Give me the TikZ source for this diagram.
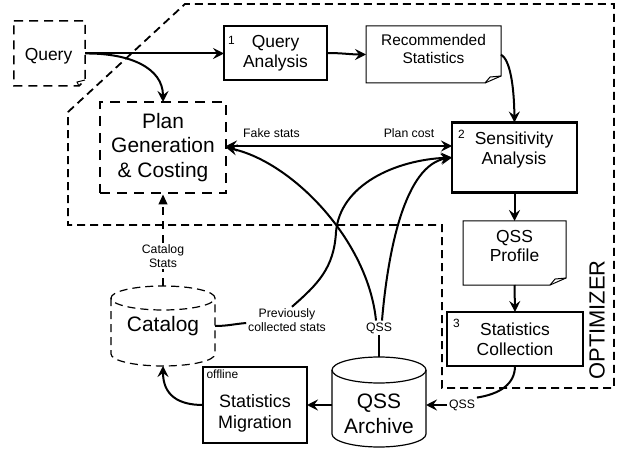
\documentclass[tikz,border=0pt]{standalone}
\usepackage{fontspec}
\setmainfont{Liberation Sans}
\usetikzlibrary{arrows.meta}
\begin{document}
\begin{tikzpicture}[x=1bp,y=1bp,
  every node/.style={inner sep=0pt, outer sep=0pt},
  pbox/.style={draw, line width=2.5bp, align=center, font=\fontsize{17.5}{20}\selectfont},
  dashbox/.style={draw, line width=2.5bp, dash pattern=on 10bp off 7bp, align=center, font=\fontsize{21}{25}\selectfont},
  ghost/.style={align=center},
  txt/.style={align=center, font=\fontsize{17.5}{20}\selectfont},
  bigtxt/.style={align=center, font=\fontsize{21}{25}\selectfont},
  lbl/.style={fill=white, inner sep=2bp, align=center, font=\fontsize{12.3}{13.5}\selectfont},
  num/.style={font=\fontsize{12}{14}\selectfont},
  notel/.style={line width=1bp, line join=miter},
  cyl/.style={line width=1.2bp},
  cyldash/.style={line width=1.2bp, dash pattern=on 8bp off 5bp},
  optline/.style={line width=1.8bp, dash pattern=on 8bp off 5bp},
  conn/.style={line width=2bp},
  arr/.style={conn, -{Stealth[length=11bp,width=11bp,inset=4bp]}},
  darr/.style={conn, {Stealth[length=11bp,width=11bp,inset=4bp]}-{Stealth[length=11bp,width=11bp,inset=4bp]}},
  catconn/.style={line width=1.2bp, dash pattern=on 8bp off 6bp},
]
\useasboundingbox (0,0) rectangle (621,-454);

% optimizer boundary
\draw[optline] (68,-112) -- (185,-4) -- (614,-4) -- (614,-388) -- (442,-388) -- (442,-225) -- (68,-225) -- cycle;
\node[rotate=90, font=\fontsize{22}{24}\selectfont] (opt) at (597,-320) {OPTIMIZER};

% Query (dashed note)
\node[ghost, minimum width=71bp, minimum height=65bp] (q) at (49.5,-53.5) {};
\node[txt] (qt) at (48.5,-56) {Query};
\draw[line width=1.5bp, dash pattern=on 9bp off 6bp] (q.north west) -- (q.north east) -- ([yshift=6]q.south east) -- ([xshift=-6]q.south east) -- (q.south west) -- cycle;
\draw[line width=1bp] ([xshift=-6]q.south east) -- ([xshift=-8,yshift=4]q.south east) -- ([yshift=6]q.south east);

% Query Analysis
\node[pbox, minimum width=103bp, minimum height=54bp] (qa) at (275.5,-53) {Query\\Analysis};
\node[num, anchor=north west] (n1) at (228,-36.5) {1};

% Recommended Statistics (note)
\node[ghost, minimum width=135bp, minimum height=57bp] (rs) at (433.5,-54.5) {};
\draw[notel] (rs.north west) -- (rs.north east) -- ([yshift=7]rs.south east) -- ([xshift=-16]rs.south east) -- (rs.south west) -- cycle;
\draw[notel] ([xshift=-16]rs.south east) -- ([xshift=-11,yshift=6]rs.south east) -- ([yshift=7]rs.south east);
\node[align=center, font=\fontsize{15.5}{18}\selectfont] (rst) at (433.5,-49) {Recommended\\Statistics};

% Plan Generation & Costing
\node[dashbox, minimum width=126bp, minimum height=91bp] (pg) at (163,-147.5) {Plan\\Generation\\\& Costing};

% Sensitivity Analysis
\node[pbox, minimum width=125bp, minimum height=70bp] (sa) at (514.5,-157.5) {};
\node[txt] (sat) at (514,-150) {Sensitivity\\Analysis};
\node[num, anchor=north west] (n2) at (458,-130) {2};

% QSS Profile (note)
\node[ghost, minimum width=103bp, minimum height=64bp] (qp) at (514.5,-253) {};
\draw[notel] (qp.north west) -- (qp.north east) -- ([yshift=7]qp.south east) -- ([xshift=-16]qp.south east) -- (qp.south west) -- cycle;
\draw[notel] ([xshift=-16]qp.south east) -- ([xshift=-11,yshift=6]qp.south east) -- ([yshift=7]qp.south east);
\node[txt] (qpt) at (514.5,-246) {QSS\\Profile};

% Statistics Collection
\node[pbox, minimum width=136bp, minimum height=54bp] (sc) at (515,-339) {Statistics\\Collection};
\node[num, anchor=north west] (n3) at (453,-319) {3};

% QSS Archive (cylinder)
\node[ghost, minimum width=94bp, minimum height=90bp] (arch) at (379,-402) {};
\draw[cyl, fill=white] (332,-370) -- (332,-434) arc[start angle=180,end angle=360,x radius=47,y radius=13] -- (426,-370);
\draw[cyl] (379,-370) ellipse[x radius=47, y radius=13];
\node[bigtxt] (archt) at (379,-414) {QSS\\Archive};

% Statistics Migration
\node[pbox, minimum width=104bp, minimum height=76bp] (sm) at (255,-405) {};
\node[txt, font=\fontsize{18}{21}\selectfont] (smt) at (255,-413) {Statistics\\Migration};
\node[num, anchor=north west] (off) at (206.5,-370) {offline};

% Catalog (dashed cylinder)
\node[bigtxt, minimum width=104bp, minimum height=80bp] (cat) at (163,-326) {Catalog};
\draw[cyldash] (111,-298) -- (111,-354) arc[start angle=180,end angle=360,x radius=52,y radius=12] -- (215,-298);
\draw[cyldash] (163,-298) ellipse[x radius=52, y radius=12];

% labels
\node[lbl] (cs) at (163,-256) {Catalog\\Stats};
\node[lbl] (prev) at (287,-320) {Previously\\collected stats};
\node[lbl] (qssu) at (379,-328) {QSS};
\node[lbl] (qssl) at (462,-405) {QSS};
\node[lbl, fill=none] (fs) at (271.5,-133) {Fake stats};
\node[lbl, fill=none] (pc) at (409,-133) {Plan cost};

% connectors
\draw[arr] (q.east) -- (q.east -| qa.west);
\draw[arr] (q.east) .. controls (130,-53) and (163,-68) .. (pg.north);
\draw[arr] (qa.east) to[out=0,in=180] (rs.west);
\draw[arr] (rs.east) .. controls (510,-60) and (514,-85) .. (sa.north);
\draw[arr] (sa.south) -- (qp.north);
\draw[arr] (qp.south) -- (sc.north);
\draw[conn] (sc.south) .. controls (515,-384) and (500,-394) .. (qssl.north east);
\draw[arr] (qssl.west) -- (qssl.west -| arch.east);
\draw[arr] (sm.east -| arch.west) -- (sm.east);
\draw[arr] (sm.west) .. controls (178,-405) and (163,-395) .. (cat.south);
\draw[catconn] (cat.north) -- (cs.south);
\draw[catconn, -{Triangle[length=10bp,width=9bp]}, shorten >=1.5bp] (cs.north) -- (pg.south);
\draw[conn] (cat.east) to[out=0,in=185] ([yshift=-3]prev.west);
\draw[arr] ([xshift=5]prev.north) .. controls (318,-284) and (334,-268) .. (336,-232) .. controls (340,-185) and (395,-160) .. (sa.west);
\draw[conn] (arch.north) -- (qssu.south);
\draw[arr] ([xshift=-3]qssu.north) .. controls (368,-240) and (292,-162) .. (pg.east);
\draw[arr] ([xshift=3]qssu.north) .. controls (388,-250) and (405,-165) .. (sa.west);
\draw[darr] ([yshift=1.5]pg.east) -- ([yshift=1.5]pg.east -| sa.west);
\end{tikzpicture}
\end{document}
